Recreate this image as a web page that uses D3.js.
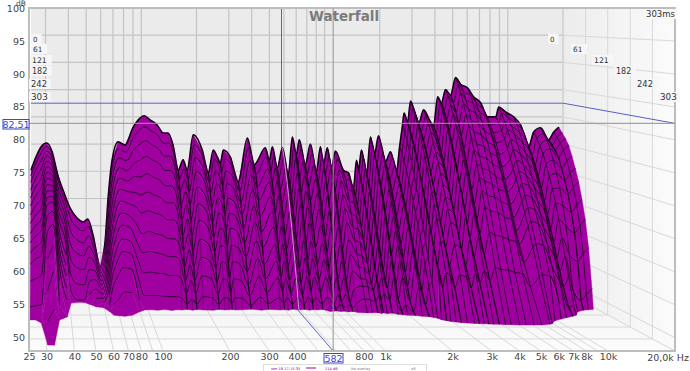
<!DOCTYPE html>
<html>
<head>
<meta charset="utf-8">
<script src="https://d3js.org/d3.v7.min.js"></script>
<style>
html,body{margin:0;padding:0;background:#fff;overflow:hidden}
text{font-family:"DejaVu Sans",sans-serif}
</style>
</head>
<body>
<script>
var width = 690, height = 371;

var dbTicks = [50,55,60,65,70,75,80,85,90,95,100];
var freqGrid = [30,40,50,60,70,80,90,100,200,300,400,500,600,700,800,900,1000,2000,3000,4000,5000,6000,7000,8000,9000,10000];
var freqTicks = [25,30,40,50,60,70,80,100,200,300,400,800,1000,2000,3000,4000,5000,6000,7000,8000,10000];
var freqTickText = ["25","30","40","50","60","70","80","100","200","300","400","800","1k","2k","3k","4k","5k","6k","7k","8k","10k"];
var timeLabels = [0,61,121,182,242,303];
var sliceTimes = [0,9,18,27,36,45,54,63,72,81,90,100,115,135,165,200,250,290];
var floorDb = 48;
var cursorFreq = 582, cursorDb = 82.51;

var freqs = [25,26.6,28.4,30.4,32.6,35,38.3,40.8,44.6,48,51,54.5,59.6,63.4,65.9,69.3,74.7,81.6,90,96,103.6,112,122,131.6,140,149,159,169,178,192,215,232,247,260,270,280,306,338,379,414,475,500,519,552,589,634,667,701,728,785,837,902,949,986,1035,1089,1146,1268,1349,1438,1493,1531,1589,1695,1780,1872,1968,2148,2289,2471,2566,2663,2715,2838,2946,3098,3258,3468,3740,3935,4140,4345,4572,4875,5188,5520,6037,6500,7100,7750,8600,8912,9725,10760,11750,13000,13830,15100,16700,17800,19000];

// time (ms) at which each frequency has sunk to the floor: the lower edge of the surface
var floorTimes = [146,146,161,273,295,146,131,60,57,58,68,80,85,105,122,125,128,122,105,96,95,97,94,98,95,96,93,97,94,96,97,93,96,95,94,96,95,92,97,93,96,94,97,92,96,93,97,94,96,93,103,101,104,102,106,103,108,111,110,110,113,111,114,112,118,120,122,124,128,130,134,138,145,150,154,157,160,162,164,165,166,167,168,168,170,170,172,172,172,172,168,165,150,142,135,128,122,105,97,95,94];

// level at each slice time, one row per frequency; rows stop once the level reaches the floor
var decay = [
[70.2,69.4,68.4,67.2,66,64.8,63.4,62.1,60.6,59.2,57.7,56,53.5,49.8],
[72.6,71.7,70.6,69.3,68,66.6,65.1,63.6,62,60.4,58.7,56.9,54,50],
[74.5,73.5,72.3,71,69.5,68,66.4,64.8,63.1,61.3,59.5,57.5,54.5,50.2],
[75.2,74.7,74,73.3,72.5,71.7,70.9,70,69.1,68.2,67.2,66.1,64.5,62.2,58.7,54.4,51],
[73.6,73.2,72.7,72.2,71.6,70.9,70.3,69.6,68.9,68.2,67.5,66.7,65.4,63.6,60.9,57.7,52.9,48.5],
[69.3,68.6,67.6,66.6,65.5,64.3,63,61.7,60.4,59,57.7,56.1,53.6,50.1],
[65.6,64.7,63.6,62.3,61,59.6,58.1,56.6,55,53.4,51.7,49.9],
[63.3,61.8,59.7,57.4,55,52.5,49.8],
[61.4,59.9,57.9,55.7,53.4,50.8,48.3],
[60.7,59.3,57.4,55.3,53.1,50.7,48.3],
[61.2,60.1,58.6,57,55.3,53.4,51.6,49.6],
[58.3,57.6,56.6,55.5,54.4,53.2,51.9,50.5,49.2],
[52.4,52.2,51.9,51.5,51.1,50.7,50.2,49.7,49.2,48.7],
[57,56.6,56.1,55.5,54.9,54.3,53.5,52.7,51.9,51,50.1,49],
[65.1,64.4,63.4,62.4,61.2,60.1,58.9,57.6,56.3,54.9,53.6,52,49.6],
[72.1,71.1,69.7,68.3,66.7,65,63.3,61.5,59.7,57.8,55.9,53.7,50.3],
[75.4,74.3,72.8,71.2,69.5,67.7,65.8,63.9,62,59.8,57.9,55.4,51.7],
[74.8,73.7,72.3,70.7,69,67.3,65.4,63.5,61.7,59.5,57.6,55.2,51.6],
[78,76.4,74.4,72.1,69.8,67.1,64.7,61.8,58.8,56.1,53.1,49.8],
[79.4,77.6,75.2,72.6,69.7,66.7,63.7,60.3,57.2,53.9,50.3],
[80.2,78.3,75.9,73.2,70.3,67.2,64.1,60.7,57.4,54.1,50.3],
[79.4,77.6,75.2,72.6,69.7,66.7,63.7,60.3,57.2,53.9,50.3],
[78.5,76.7,74.4,71.9,69.1,66.2,63.3,60,56.9,53.8,50.2],
[77,75.3,73.1,70.7,68.1,65.3,62.5,59.4,56.5,53.5,50.1],
[77,75.3,73.1,70.7,68.1,65.3,62.5,59.4,56.5,53.5,50.1],
[74.8,73.2,71.2,69,66.5,64,61.4,58.5,55.8,53.1,49.9],
[70.2,68.7,66.7,64.5,62.1,59.5,57.1,54.5,52.3,50.4,48.8],
[72.1,70.7,68.8,66.9,64.7,62.4,60,57.5,55,52.6,49.7],
[70.2,68.7,66.7,64.5,62.1,59.5,57.1,54.5,52.3,50.4,48.8],
[76.7,75,72.8,70.5,67.9,65.1,62.4,59.3,56.4,53.4,50.1],
[73.9,72.4,70.4,68.3,65.9,63.4,61,58.2,55.6,52.9,49.9],
[69.7,68.2,66.3,64.1,61.7,59.2,56.9,54.3,52.1,50.3,48.8],
[73.9,72.4,70.4,68.3,65.9,63.4,61,58.2,55.6,52.9,49.9],
[72.6,71.2,69.3,67.3,65,62.7,60.3,57.7,55.2,52.6,49.8],
[71.5,69.9,67.8,65.5,63,60.3,57.8,55,52.7,50.6,48.9],
[73.9,72.4,70.4,68.3,65.9,63.4,61,58.2,55.6,52.9,49.9],
[72.6,71.2,69.3,67.3,65,62.7,60.3,57.7,55.2,52.6,49.8],
[68,66.6,64.8,62.8,60.5,58.2,56,53.7,51.6,50,48.6],
[76.1,74.5,72.3,70,67.4,64.7,62,59,56.2,53.3,50],
[71.2,69.7,67.6,65.3,62.7,60.1,57.6,54.9,52.6,50.6,48.9],
[74.3,72.8,70.8,68.6,66.2,63.7,61.2,58.3,55.7,53,49.9],
[72,70.4,68.3,65.9,63.3,60.6,58,55.2,52.8,50.7,48.9],
[74.5,73,70.9,68.7,66.3,63.8,61.3,58.4,55.7,53,49.9],
[70.6,69.1,67,64.8,62.3,59.8,57.3,54.7,52.4,50.5,48.8],
[74.3,72.8,70.8,68.6,66.2,63.7,61.2,58.3,55.7,53,49.9],
[69.3,67.9,65.9,63.8,61.4,59,56.7,54.2,52,50.2,48.7],
[76.3,74.7,72.5,70.2,67.6,64.9,62.2,59.1,56.3,53.3,50],
[73,71.4,69.1,66.7,64,61.2,58.5,55.6,53.1,50.9,49],
[75.8,74.2,72,69.8,67.2,64.6,61.9,58.9,56.1,53.3,50],
[71.2,69.7,67.6,65.3,62.7,60.1,57.6,54.9,52.6,50.6,48.9],
[75,73.4,71.4,69.1,66.7,64.1,61.5,58.6,55.9,53.1,50,49],
[69.9,68.4,66.4,64.2,61.9,59.3,56.9,54.4,52.2,50.3,48.8,48.3],
[74.5,73,70.9,68.7,66.3,63.8,61.3,58.4,55.7,53,50.4,49],
[71.2,69.7,67.6,65.3,62.7,60.1,57.6,54.9,52.6,50.6,49.2,48.5],
[74.3,72.8,70.8,68.6,66.2,63.7,61.2,58.3,55.7,53,50.4,49],
[70.6,69.1,67,64.8,62.3,59.8,57.3,54.7,52.4,50.5,49.2,48.5],
[73.7,72.4,70.6,68.7,66.5,64.2,61.9,59.2,56.8,54.2,51.4,49.2],
[70.2,68.9,67.2,65.2,63.1,60.9,58.8,56.7,54.7,53,51.9,50],
[69.7,68.4,66.7,64.8,62.7,60.6,58.5,56.4,54.5,52.8,51.8,49.9],
[66.9,65.8,64.2,62.5,60.6,58.7,56.9,55.1,53.4,52,51.2,49.6],
[72,70.8,69.3,67.6,65.7,63.8,61.8,59.8,57.6,55.3,53,50.6],
[70.2,68.9,67.2,65.2,63.1,60.9,58.8,56.7,54.7,53,51.9,50],
[73.9,72.6,70.9,69.1,67.1,65,62.9,60.7,58.4,55.9,53.4,50.8],
[69.3,68,66.4,64.5,62.4,60.3,58.2,56.2,54.3,52.7,51.7,49.9],
[76.3,75,73.4,71.6,69.6,67.6,65.4,63.3,61,58.6,56.3,53.7,49.4],
[73,71.7,70,68.1,66.1,63.9,61.6,59.3,57,54.6,52.3,50,48.5],
[76.5,75.2,73.6,71.7,69.8,67.7,65.6,63.4,61.1,58.7,56.3,53.7,49.4],
[71.7,70.4,68.9,67,65.1,63,60.8,58.6,56.4,54.1,51.9,49.7,48.4],
[73.6,72.6,71.3,69.9,68.4,66.8,65.1,63.4,61.6,59.8,57.9,55.8,52.5],
[69.9,68.8,67.6,66,64.4,62.6,60.8,58.9,57.1,55.3,53.4,51.6,49.4],
[74.5,73.5,72.1,70.7,69.1,67.4,65.7,63.9,62,60.2,58.2,56,52.7],
[78.5,77.3,75.8,74.1,72.2,70.4,68.3,66.3,64.2,62,59.7,57.2,53.4],
[80.7,79.7,78.4,77,75.4,73.8,72.1,70.4,68.6,66.8,64.9,62.8,59.5,55],
[79,77.8,76.4,74.8,73,71.1,69.1,67,65.1,63,61,59,56.4,53.1],
[82.9,81.8,80.5,78.9,77.3,75.5,73.8,71.9,70,68.1,66,63.8,60.3,55.5],
[80.9,79.9,78.6,77.2,75.6,74,72.3,70.5,68.8,66.9,65,62.9,59.6,55],
[78.7,77.5,76.2,74.5,72.8,70.8,68.9,66.8,64.9,62.9,60.9,58.9,56.3,53.1],
[81.3,80.3,79,77.5,75.9,74.3,72.6,70.8,69,67.1,65.2,63.1,59.7,55.1],
[79.4,78.4,77.2,75.8,74.3,72.8,71.2,69.5,67.8,66,64.2,62.2,59,54.7],
[78.3,77.2,75.8,74.1,72.4,70.5,68.6,66.6,64.6,62.6,60.7,58.7,56.2,53],
[83.7,82.6,81.2,79.6,78,76.2,74.4,72.5,70.5,68.5,66.5,64.1,60.6,55.6],
[82.6,81.3,79.8,78,76,73.9,71.7,69.5,67.3,65.1,62.9,60.6,57.7,53.9],
[85,83.9,82.4,80.8,79,77.2,75.3,73.3,71.3,69.3,67.1,64.7,61,55.9],
[84,82.7,81.1,79.2,77.2,75,72.8,70.5,68.2,65.9,63.6,61.3,58.2,54.2],
[87.2,86,84.5,82.7,80.9,78.9,76.9,74.9,72.7,70.5,68.3,65.7,61.8,56.4],
[86,84.8,83.3,81.7,79.9,78,76,74,72,69.9,67.6,65.2,61.4,56.1],
[85.3,84.1,82.7,81,79.3,77.4,75.5,73.5,71.5,69.4,67.3,64.9,61.1,56],
[83.7,82.6,81.2,79.6,78,76.2,74.4,72.5,70.5,68.5,66.5,64.1,60.6,55.6],
[82.6,81.5,80.2,78.7,77,75.3,73.5,71.7,69.8,67.9,65.9,63.6,60.2,55.4],
[80,78.8,77.4,75.7,73.8,71.8,69.8,67.7,65.7,63.6,61.5,59.5,56.8,53.3],
[80,79,77.8,76.4,74.8,73.2,71.6,69.9,68.2,66.4,64.5,62.5,59.3,54.8],
[81.8,80.8,79.4,78,76.4,74.7,73,71.2,69.3,67.4,65.5,63.3,59.9,55.2],
[80.9,79.9,78.6,77.2,75.6,74,72.3,70.5,68.8,66.9,65,62.9,59.6,55],
[80,78.8,77.4,75.7,74,72.2,70.2,68.3,66.2,64.1,62,59.5,55.9,50.7],
[78.5,77.3,75.8,74.1,72.2,70.4,68.3,66.3,64.2,62,59.7,57.2,53.4],
[74.5,73.2,71.6,69.8,67.8,65.6,63.4,61.2,59,56.6,54.5,52.2,49.2],
[77.2,76.2,75,73.7,72,70,68,65.7,63,60,57,54,49.5],
[78,77,76,74.6,72.7,70.5,68.1,65.2,61.8,57.2,51.5],
[75.8,75,74.2,73.1,71.3,69.3,67,64.1,60.7,56,49.5],
[77.2,76.4,75.5,74.4,72.6,70.6,68.3,65.4,62,57.3,50.5],
[78.1,77.2,76.3,75.2,73.4,71.4,69.2,66.3,63,58.3,51.5]
];

function level(i, j) {
	return i < decay[j].length ? decay[j][i] : floorDb;
}
function stamp(i, j) {
	return i < decay[j].length ? sliceTimes[i] : floorTimes[j];
}

// back wall = 0 ms, front of the box = 303 ms
var backX = d3.scaleLog().domain([25,20000]).range([31,563]);
var frontX = d3.scaleLog().domain([25,20000]).range([29,675]);
var backY = d3.scaleLinear().domain([48,100]).range([291,8]);
var frontY = d3.scaleLinear().domain([48,100]).range([351,8]);
var depth = d3.scaleLinear().domain([0,303]).range([0,1]);

function px(f, ms) {
	var t = depth(ms);
	return backX(f) + (frontX(f) - backX(f)) * t;
}
function py(db, ms) {
	var t = depth(ms);
	return backY(db) + (frontY(db) - backY(db)) * t;
}
function vertex(i, j) {
	var ms = stamp(i, j);
	return px(freqs[j], ms) + "," + py(level(i, j), ms);
}

var svg = d3.select("body")
	.append("svg")
	.attr("width", width)
	.attr("height", height)
	.style("display", "block");

var defs = svg.append("defs");
var wallGrad = defs.append("linearGradient").attr("id", "wall");
wallGrad.append("stop").attr("offset", 0).attr("stop-color", "#ececec");
wallGrad.append("stop").attr("offset", 1).attr("stop-color", "#fbfbfb");
var floorGrad = defs.append("linearGradient").attr("id", "floor").attr("x1", 0).attr("x2", 0).attr("y1", 0).attr("y2", 1);
floorGrad.append("stop").attr("offset", 0).attr("stop-color", "#f1f1f1");
floorGrad.append("stop").attr("offset", 1).attr("stop-color", "#fcfcfc");

// walls
svg.append("rect").attr("x", backX(25)).attr("y", backY(100))
	.attr("width", backX(20000) - backX(25)).attr("height", backY(48) - backY(100))
	.attr("fill", "#ebebeb");
function poly(pts, fill) {
	svg.append("polygon").attr("points", pts.map(function(p) { return p.join(","); }).join(" ")).attr("fill", fill);
}
poly([[backX(25),backY(48)],[backX(20000),backY(48)],[frontX(20000),frontY(48)],[frontX(25),frontY(48)]], "url(#floor)");
poly([[backX(20000),backY(100)],[frontX(20000),frontY(100)],[frontX(20000),frontY(48)],[backX(20000),backY(48)]], "url(#wall)");

// grid
var grid = svg.append("g").attr("fill", "none").attr("stroke", "#c4c4c4").attr("stroke-width", 1.2);
freqGrid.concat([20000]).forEach(function(f) {
	grid.append("line").attr("x1", backX(f)).attr("x2", backX(f)).attr("y1", backY(100)).attr("y2", backY(48));
	grid.append("line").attr("x1", backX(f)).attr("x2", frontX(f)).attr("y1", backY(48)).attr("y2", frontY(48))
		.attr("stroke", "#d8d8d8").attr("stroke-width", 1);
});
dbTicks.forEach(function(d) {
	grid.append("line").attr("x1", backX(25)).attr("x2", backX(20000)).attr("y1", backY(d)).attr("y2", backY(d));
	grid.append("line").attr("x1", backX(20000)).attr("x2", frontX(20000)).attr("y1", backY(d)).attr("y2", frontY(d))
		.attr("stroke", "#d8d8d8").attr("stroke-width", 1);
});
timeLabels.forEach(function(ms) {
	grid.append("line").attr("x1", px(25,ms)).attr("x2", px(20000,ms)).attr("y1", py(48,ms)).attr("y2", py(48,ms))
		.attr("stroke", "#d8d8d8").attr("stroke-width", 1);
	grid.append("line").attr("x1", px(20000,ms)).attr("x2", px(20000,ms)).attr("y1", py(100,ms)).attr("y2", py(48,ms))
		.attr("stroke", "#d8d8d8").attr("stroke-width", 1);
});

// blue cursor sits behind the surface
var blue = "#5a5fc0";
var cursor = svg.append("g").attr("fill", "none").attr("stroke", blue).attr("stroke-width", 1);
cursor.append("line").attr("x1", backX(25)).attr("x2", backX(20000)).attr("y1", backY(cursorDb)).attr("y2", backY(cursorDb));
cursor.append("line").attr("x1", backX(20000)).attr("x2", frontX(20000)).attr("y1", backY(cursorDb)).attr("y2", frontY(cursorDb));
cursor.append("line").attr("x1", backX(cursorFreq)).attr("x2", backX(cursorFreq)).attr("y1", backY(100)).attr("y2", backY(48));
cursor.append("line").attr("x1", backX(cursorFreq)).attr("x2", frontX(cursorFreq)).attr("y1", backY(48)).attr("y2", frontY(48));

// waterfall, painted from the back slice forward: a strip of quads, then that slice's line
var purple = "#a000a0";
var ink = "#1a001a";
var line = d3.line().curve(d3.curveMonotoneX);
sliceTimes.forEach(function(ms, i) {
	var d = "";
	if (i < sliceTimes.length - 1) {
		for (var j = 0; j < freqs.length - 1; j++) {
			if (level(i, j) <= floorDb && level(i, j + 1) <= floorDb) continue;
			d += "M" + vertex(i, j) + "L" + vertex(i, j + 1) + "L" + vertex(i + 1, j + 1) + "L" + vertex(i + 1, j) + "Z";
		}
		svg.append("path").attr("d", d).attr("fill", purple).attr("stroke", purple).attr("stroke-width", 0.4);
	}
	var pts = [];
	function flush() {
		if (pts.length > 1) {
			svg.append("path").attr("d", line(pts)).attr("fill", "none").attr("stroke", ink).attr("stroke-width", i == 0 ? 1.6 : 0.8);
		}
		pts = [];
	}
	freqs.forEach(function(f, j) {
		var v = level(i, j);
		if (v > floorDb) pts.push([px(f, ms), py(v, ms)]);
		else flush();
	});
	flush();
});

// dark creases run down the notches, thinner ones down the lobes, heavier above about 1.2 kHz
var creases = svg.append("g").attr("fill", "none").attr("stroke", ink);
freqs.forEach(function(f, j) {
	if (j < 25 || j >= freqs.length - 1) return;
	var isNotch = decay[j][0] < decay[j-1][0] && decay[j][0] < decay[j+1][0];
	var pts = decay[j].map(function(v, i) { return [px(f, sliceTimes[i]), py(v, sliceTimes[i])]; });
	pts.push([px(f, floorTimes[j]), py(floorDb, floorTimes[j])]);
	creases.append("path")
		.attr("d", d3.line()(pts))
		.attr("stroke-width", isNotch ? 1.3 : (j >= 57 ? 0.9 : 0.5))
		.attr("stroke-opacity", isNotch ? 0.9 : (j >= 57 ? 0.8 : 0.5));
});

// pale cursor trace on the surface
var ci = d3.bisectLeft(freqs, cursorFreq);
svg.append("path")
	.attr("d", d3.line()(decay[ci].map(function(v, i) { return [px(freqs[ci], sliceTimes[i]), py(v, sliceTimes[i])]; })
		.concat([[px(freqs[ci], floorTimes[ci]), py(floorDb, floorTimes[ci])]])))
	.attr("fill", "none").attr("stroke", "#e9cfe9").attr("stroke-width", 0.9).attr("stroke-opacity", 0.8);

// frame
svg.append("rect").attr("x", 29).attr("y", 8).attr("width", 646).attr("height", 343)
	.attr("fill", "none").attr("stroke", "#bdbdbd").attr("stroke-width", 2);

// grey crosshair
var cross = svg.append("g").attr("stroke", "#969696").attr("stroke-width", 1.2).attr("opacity", 0.85);
cross.append("line").attr("x1", frontX(25)).attr("x2", frontX(20000)).attr("y1", frontY(cursorDb)).attr("y2", frontY(cursorDb));
cross.append("line").attr("x1", frontX(cursorFreq)).attr("x2", frontX(cursorFreq)).attr("y1", 8).attr("y2", 351);

// axes
var yAxis = svg.append("g").attr("transform", "translate(29,0)")
	.call(d3.axisLeft(frontY).tickValues(dbTicks).tickSize(0).tickPadding(4));
yAxis.select(".domain").remove();
yAxis.selectAll("text").style("font-size", "9.5px").attr("fill", "#444");

var xAxis = svg.append("g").attr("transform", "translate(0,351)")
	.call(d3.axisBottom(frontX).tickValues(freqTicks).tickSize(0).tickPadding(2)
		.tickFormat(function(d) { return freqTickText[freqTicks.indexOf(d)]; }));
xAxis.select(".domain").remove();
xAxis.selectAll("text").style("font-size", "9.5px").attr("fill", "#444");

svg.append("text").attr("x", 689).attr("y", 361).attr("text-anchor", "end")
	.style("font-size", "9.5px").attr("fill", "#444").text("20,0k Hz");
svg.append("text").attr("x", 21).attr("y", 6).attr("text-anchor", "middle")
	.style("font-size", "7.5px").attr("fill", "#444").text("dB");

// title
svg.append("text").attr("x", 344).attr("y", 21).attr("text-anchor", "middle")
	.style("font-size", "13.5px").style("font-weight", "bold").attr("fill", "#7b7b7b").text("Waterfall");

// time labels
function timeTag(x, y, txt, size) {
	var g = svg.append("g");
	var w = txt.length * 5.6 + 5;
	g.append("rect").attr("x", x - 2).attr("y", y - 5).attr("width", w).attr("height", 10).attr("fill", "#f6f6f6");
	g.append("text").attr("x", x).attr("y", y + 3).style("font-size", size + "px").attr("fill", "#333").text(txt);
}
var leftTagX = [33,33,32,32,31,31];
var rightTagX = [550,573,594,616,637,660];
var tagY = [39,49,60,71,84,97];
timeLabels.forEach(function(ms, i) {
	timeTag(leftTagX[i], tagY[i], String(ms), 7 + i * 0.35);
	timeTag(rightTagX[i], tagY[i], String(ms), 7 + i * 0.35);
});
timeTag(646, 14, "303ms", 8.5);

// value boxes on the axes
function valueBox(x, y, w, txt) {
	svg.append("rect").attr("x", x).attr("y", y).attr("width", w).attr("height", 9.5)
		.attr("fill", "#fff").attr("stroke", "#3c46c8").attr("stroke-width", 1);
	svg.append("text").attr("x", x + w / 2).attr("y", y + 8.2).attr("text-anchor", "middle")
		.style("font-size", "9.5px").attr("fill", "#3c46c8").text(txt);
}
valueBox(3, 119.5, 26, "82,51");
valueBox(324, 353.5, 19, "582");

// legend strip
var legend = svg.append("g");
legend.append("rect").attr("x", 263.5).attr("y", 364.5).attr("width", 163).attr("height", 8)
	.attr("fill", "#fff").attr("stroke", "#dddddd");
legend.append("text").attr("x", 271).attr("y", 369.5).style("font-size", "3.6px").attr("fill", purple).text("see 18 17:15:35");
legend.append("line").attr("x1", 306).attr("x2", 316).attr("y1", 368).attr("y2", 368).attr("stroke", purple);
legend.append("text").attr("x", 325).attr("y", 369.5).style("font-size", "3.6px").attr("fill", purple).text("114 dB");
legend.append("text").attr("x", 351).attr("y", 369.5).style("font-size", "3.6px").attr("fill", "#777").text("No overlay");
legend.append("text").attr("x", 411).attr("y", 369.5).style("font-size", "3.6px").attr("fill", "#777").text("x8");
</script>
</body>
</html>
